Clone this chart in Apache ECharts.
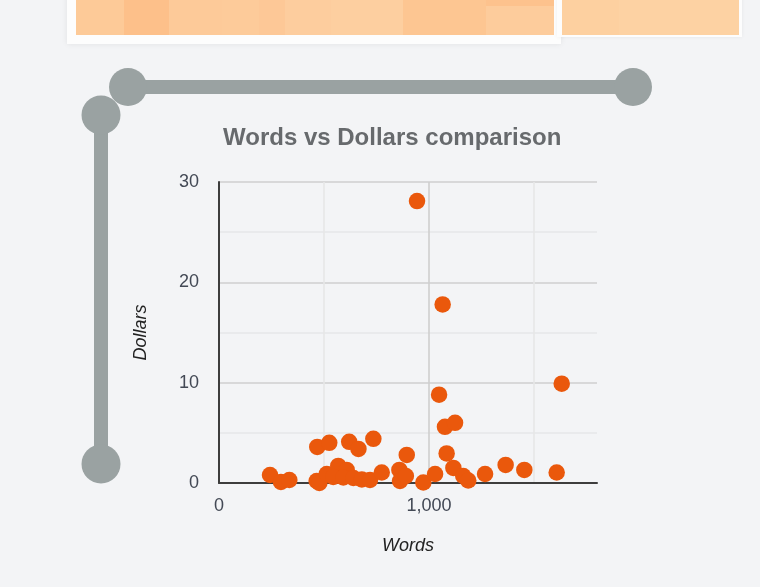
<!DOCTYPE html>
<html>
<head>
<meta charset="utf-8">
<script src="https://cdn.jsdelivr.net/npm/echarts@6/dist/echarts.min.js"></script>
<style>
html,body{margin:0;padding:0;background:#f3f4f6;}
#chart{width:760px;height:587px;}
</style>
</head>
<body>
<div id="chart"></div>
<script>
// Data
var words   = [943, 1065, 1048, 1632, 1076, 1124, 468, 525, 620, 664, 735, 894, 1084, 243, 295, 335, 465, 478, 513, 568, 608, 544, 592, 640, 680, 719, 775, 859, 862, 890, 973, 1029, 1116, 1163, 1187, 1267, 1365, 1454, 1608];
var dollars = [28.1, 17.8, 8.8, 9.9, 5.6, 6.0, 3.6, 4.0, 4.1, 3.4, 4.4, 2.8, 2.95, 0.8, 0.1, 0.3, 0.2, 0.0, 0.9, 1.7, 1.3, 0.6, 0.55, 0.5, 0.35, 0.3, 1.05, 1.3, 0.2, 0.7, 0.05, 0.9, 1.5, 0.7, 0.25, 0.9, 1.8, 1.3, 1.05];
var xTickValues = [0, 1000];
var xTickLabels = ['0', '1,000'];
var yTickValues = [0, 10, 20, 30];
var yTickLabels = ['0', '10', '20', '30'];
var titleText = 'Words vs Dollars comparison';
var xName = 'Words';
var yName = 'Dollars';

// decorative tiles (top, cropped)
var tiles1 = [[76,124,'#fdca98'],[124,169,'#fdc08a'],[169,222,'#fdca99'],[222,259,'#fdcb9a'],[259,285,'#fdc897'],[285,331,'#fdcd9e'],[331,403,'#fdcfa0'],[403,486,'#fdc692'],[486,554,'#fdcc9c']];
var tiles2 = [[562,619,'#fdd0a0'],[619,739,'#fdd2a3']];

var points = words.map(function(w, i){ return [w, dollars[i]]; });

var grey = '#9aa2a2';
var graphics = [];
graphics.push({type:'rect', shape:{x:67,y:-10,width:494,height:54}, style:{fill:'#fdfdfd', shadowBlur:6, shadowColor:'rgba(0,0,0,0.08)'}, z:-10});
graphics.push({type:'rect', shape:{x:557,y:-10,width:185,height:47}, style:{fill:'#fdfdfd', shadowBlur:4, shadowColor:'rgba(0,0,0,0.06)'}, z:-10});
tiles1.concat(tiles2).forEach(function(t){
  graphics.push({type:'rect', shape:{x:t[0],y:-5,width:t[1]-t[0],height:40}, style:{fill:t[2]}, z:-9});
});
graphics.push({type:'rect', shape:{x:486,y:-5,width:68,height:11}, style:{fill:'#fdc28d'}, z:-8});
// grey connectors
graphics.push({type:'line', shape:{x1:128,y1:87,x2:633,y2:87}, style:{stroke:grey, lineWidth:14}, z:-5});
graphics.push({type:'circle', shape:{cx:128,cy:87,r:19}, style:{fill:grey}, z:-5});
graphics.push({type:'circle', shape:{cx:633,cy:87,r:19}, style:{fill:grey}, z:-5});
graphics.push({type:'line', shape:{x1:101,y1:115,x2:101,y2:464}, style:{stroke:grey, lineWidth:14}, z:-5});
graphics.push({type:'circle', shape:{cx:101,cy:115,r:19.5}, style:{fill:grey}, z:-5});
graphics.push({type:'circle', shape:{cx:101,cy:464,r:19.5}, style:{fill:grey}, z:-5});

function lookup(vals, labels, v){
  var i = vals.indexOf(v);
  return i >= 0 ? labels[i] : '';
}

var chart = echarts.init(document.getElementById('chart'), null, {renderer:'canvas'});
chart.setOption({
  backgroundColor: '#f3f4f6',
  animation: false,
  title: {
    text: titleText,
    left: 218, top: 121,
    textStyle: {fontFamily:'Liberation Sans, Arial, sans-serif', fontSize:24, fontWeight:'bold', color:'#676a6d'}
  },
  graphic: graphics,
  grid: {left:219, right:163, top:182, bottom:104, containLabel:false},
  xAxis: {
    type:'value', min:0, max:1800, interval:500,
    name: xName, nameLocation:'middle', nameGap:54,
    nameTextStyle:{fontFamily:'Liberation Sans, Arial, sans-serif', fontSize:18, fontStyle:'italic', color:'#222'},
    axisLine:{show:true, onZero:false, lineStyle:{color:'#3d3d3d', width:2}},
    axisTick:{show:false},
    axisLabel:{margin:14, fontFamily:'Liberation Sans, Arial, sans-serif', fontSize:18, color:'#434955', showMaxLabel:false,
      formatter:function(v){ return lookup(xTickValues, xTickLabels, v); }},
    splitLine:{show:true, lineStyle:{color:['#cfcfcf','#e6e7e8','#cfcfcf','#e6e7e8','rgba(0,0,0,0)'], width:1.6}}
  },
  yAxis: {
    type:'value', min:0, max:30, interval:5,
    name: yName, nameLocation:'middle', nameGap:69, nameRotate:90,
    nameTextStyle:{fontFamily:'Liberation Sans, Arial, sans-serif', fontSize:18, fontStyle:'italic', color:'#222'},
    axisLine:{show:true, lineStyle:{color:'#3d3d3d', width:2}},
    axisTick:{show:false},
    axisLabel:{margin:20, fontFamily:'Liberation Sans, Arial, sans-serif', fontSize:18, color:'#434955',
      formatter:function(v){ return lookup(yTickValues, yTickLabels, v); }},
    splitLine:{show:true, lineStyle:{color:['#cfcfcf','#e6e7e8'], width:1.6}}
  },
  series: [{
    type:'scatter',
    data: points,
    symbolSize: 16.5,
    itemStyle:{color:'#ea580c', opacity:1},
    z: 3
  }]
});
</script>
</body>
</html>
